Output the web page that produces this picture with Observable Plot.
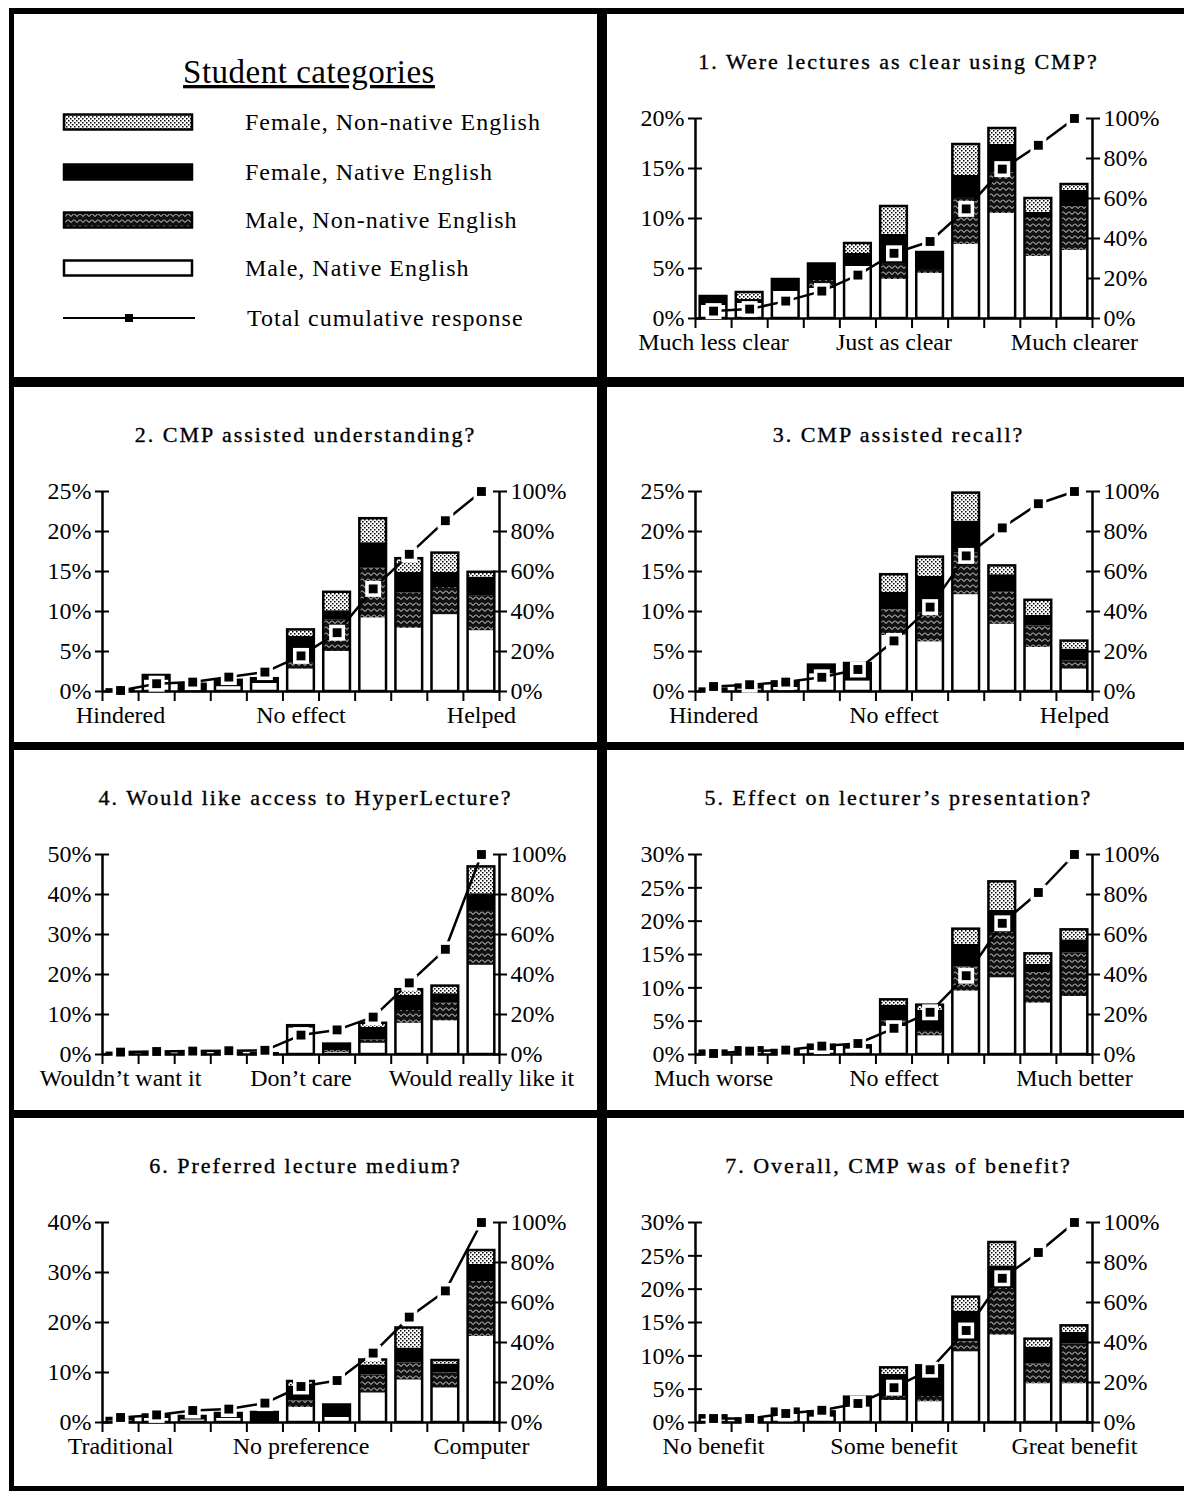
<!DOCTYPE html>
<html><head><meta charset="utf-8">
<script src="https://cdn.jsdelivr.net/npm/d3@7"></script>
<script src="https://cdn.jsdelivr.net/npm/@observablehq/plot@0.6"></script>
<style>
html,body{margin:0;padding:0;background:#fff;}
body{width:1184px;height:1491px;overflow:hidden;position:relative;font-family:"Liberation Serif",serif;color:#000;}
#frame{position:absolute;left:9px;top:8px;width:1200px;height:1483px;background:#000;}
.panel{position:absolute;background:#fff;overflow:hidden;}
.title{position:absolute;left:0;right:0;top:35px;text-align:center;font-size:22px;letter-spacing:2px;line-height:26px;white-space:nowrap;-webkit-text-stroke:0.35px #000;}
.panel svg.chart{position:absolute;left:0;top:70px;}
.panel svg.chart text{-webkit-text-stroke:0.25px #000;}
</style></head><body>
<svg width="0" height="0" style="position:absolute">
<defs>
<pattern id="pFNN" width="4" height="4" patternUnits="userSpaceOnUse">
<rect width="4" height="4" fill="#fff"/>
<rect x="0" y="0" width="1.5" height="1.5" fill="#000"/>
<rect x="2" y="2" width="1.5" height="1.5" fill="#000"/>
</pattern>
<pattern id="pMNN" width="6" height="6" patternUnits="userSpaceOnUse">
<rect width="6" height="6" fill="#111"/>
<path d="M0,1.5 L3,4.5 L6,1.5" stroke="#fff" stroke-width="0.9" fill="none"/>
</pattern>
</defs>
</svg>
<div id="frame"></div>
<script>
// ---------- data ----------
const categories = ["Male, Native English", "Male, Non-native English", "Female, Native English", "Female, Non-native English"];

const questions = [
  "1. Were lectures as clear using CMP?",
  "2. CMP assisted understanding?",
  "3. CMP assisted recall?",
  "4. Would like access to HyperLecture?",
  "5. Effect on lecturer\u2019s presentation?",
  "6. Preferred lecture medium?",
  "7.  Overall, CMP was of benefit?"
];

const scaleLabels = [
  ["Much less clear", "Just as clear", "Much clearer"],
  ["Hindered", "No effect", "Helped"],
  ["Hindered", "No effect", "Helped"],
  ["Wouldn\u2019t want it", "Don\u2019t care", "Would really like it"],
  ["Much worse", "No effect", "Much better"],
  ["Traditional", "No preference", "Computer"],
  ["No benefit", "Some benefit", "Great benefit"]
];

const axisMax = [20, 25, 25, 50, 30, 40, 30];
const axisStep = [5, 5, 5, 10, 5, 10, 5];
const cumulativeTicks = [0, 20, 40, 60, 80, 100];

const maleNative = [
  [1.3, 1.5, 2.7, 3.0, 5.2, 3.9, 4.5, 7.4, 10.5, 6.2, 6.8],
  [0, 1.4, 0, 0.6, 1.0, 2.8, 5.0, 9.2, 7.9, 9.6, 7.6],
  [0, 0.3, 0.5, 2.2, 1.3, 7.0, 6.2, 12.1, 8.4, 5.5, 2.8],
  [0, 0, 0, 0, 0, 6.6, 0.5, 2.8, 7.8, 8.4, 22.3],
  [0, 0.3, 0, 0.6, 0.8, 4.2, 2.8, 9.5, 11.5, 7.7, 8.7],
  [0.3, 0.8, 0.5, 0.8, 0, 3.0, 1.0, 5.9, 8.5, 6.9, 17.2],
  [0.5, 0, 1.2, 0.8, 2.3, 3.3, 3.1, 10.6, 13.1, 5.8, 5.8]
];
const maleNonNative = [
  [0, 0, 0, 0.8, 0, 1.6, 0.4, 4.7, 4.1, 3.9, 4.4],
  [0, 0, 0, 0, 0, 0.8, 3.9, 6.2, 4.4, 3.4, 4.3],
  [0, 0, 0, 0, 0, 3.2, 3.6, 5.2, 4.0, 2.7, 1.0],
  [0, 0, 0, 0, 0, 0, 0.5, 0.8, 3.2, 4.4, 13.7],
  [0, 0, 0, 0, 0, 0.8, 0.8, 3.6, 6.8, 4.6, 6.5],
  [0, 0, 0, 0, 0, 1.3, 0, 3.6, 3.4, 3.0, 11.0],
  [0, 0, 0, 0, 0, 0.6, 0.8, 1.5, 7.0, 3.0, 6.0]
];
const femaleNative = [
  [0.9, 0.4, 1.2, 1.65, 1.3, 2.9, 1.7, 2.2, 2.8, 0.5, 1.6],
  [0.2, 0.6, 0.9, 0.8, 0.6, 3.3, 1.2, 3.2, 2.6, 1.9, 2.4],
  [0.3, 0.5, 0.7, 1.1, 2.2, 2.2, 4.6, 4.0, 2.2, 1.3, 1.5],
  [0.3, 0.2, 0.2, 0.2, 0.2, 0.6, 1.6, 3.2, 3.8, 2.4, 4.2],
  [0.5, 0.7, 0.6, 0.8, 0.5, 2.4, 3.0, 3.4, 3.3, 1.2, 2.0],
  [0.5, 0.7, 0.7, 1.0, 2.0, 3.0, 2.5, 2.0, 3.0, 1.8, 3.4],
  [0.5, 0.5, 0.8, 0.8, 1.5, 3.3, 4.6, 4.6, 3.4, 2.5, 1.7]
];
const femaleNonNative = [
  [0, 0.7, 0, 0, 1.0, 2.8, 0, 3.1, 1.6, 1.4, 0.6],
  [0, 0, 0, 0, 0, 0.8, 2.3, 3.0, 1.7, 2.4, 0.6],
  [0, 0, 0, 0, 0, 2.2, 2.4, 3.5, 1.1, 1.9, 1.0],
  [0, 0, 0, 0, 0, 0, 0, 1.0, 1.4, 1.9, 6.7],
  [0, 0, 0, 0, 0, 0.8, 0.8, 2.3, 4.3, 1.6, 1.5],
  [0, 0, 0, 0, 0, 0.9, 0, 1.0, 4.0, 0.7, 2.8],
  [0, 0, 0, 0, 0, 1.0, 0, 2.1, 3.5, 1.2, 1.0]
];
const cumulative = [
  [3.7, 4.7, 8.7, 13.7, 21.7, 32.6, 38.5, 54.8, 74.7, 86.6, 100],
  [0.5, 3.9, 4.7, 7.2, 9.7, 17.8, 29.4, 51.3, 68.6, 85.4, 100],
  [2.5, 3.4, 4.7, 7.1, 11.0, 25.3, 42.2, 67.8, 81.8, 93.9, 100],
  [1.2, 1.5, 1.7, 1.9, 2.1, 9.7, 12.3, 18.7, 35.8, 52.6, 100],
  [0.5, 1.7, 2.2, 4.2, 5.5, 13.1, 21.1, 39.4, 65.6, 81.0, 100],
  [2.5, 3.8, 6.0, 6.7, 9.7, 18.0, 21.0, 34.7, 52.7, 65.8, 100],
  [2.0, 2.0, 4.5, 6.1, 9.5, 17.4, 26.4, 46.0, 72.1, 85.0, 100]
];

// ---------- styles / layout ----------
const catFill = ["#fff", "url(#pMNN)", "#000", "url(#pFNN)"];
const colX = [14, 607];
const rowY = [14, 387, 750, 1118];
const rowH = [363, 355, 360, 368];
const panelW = 583;
const slots = [[1,0],[0,1],[1,1],[0,2],[1,2],[0,3],[1,3]];

function makePanel(c, r) {
  const d = document.createElement("div");
  d.className = "panel";
  d.style.left = colX[c] + "px";
  d.style.top = rowY[r] + "px";
  d.style.width = panelW + "px";
  d.style.height = rowH[r] + "px";
  document.body.appendChild(d);
  return d;
}

// ---------- legend ----------
{
  const p = makePanel(0, 0);
  const svg = d3.select(p).append("svg").attr("width", panelW).attr("height", rowH[0])
    .style("font-family", "'Liberation Serif', serif")
    .style("-webkit-text-stroke", "0.35px #000");
  svg.append("text").attr("x", 295).attr("y", 69).attr("text-anchor", "middle")
    .attr("font-size", 33).attr("letter-spacing", 0.5).attr("text-decoration", "underline")
    .text("Student categories");
  const order = [3, 2, 1, 0];
  const rowsY = [108, 158, 206, 254];
  order.forEach((ci, i) => {
    svg.append("rect").attr("x", 50).attr("y", rowsY[i] - 7.5).attr("width", 128).attr("height", 15)
      .attr("fill", catFill[ci]).attr("stroke", "#000").attr("stroke-width", 2.5);
    svg.append("text").attr("x", 231).attr("y", rowsY[i] + 8).attr("font-size", 24)
      .attr("letter-spacing", 1).text(categories[ci]);
  });
  svg.append("line").attr("x1", 49).attr("x2", 181).attr("y1", 304).attr("y2", 304)
    .attr("stroke", "#000").attr("stroke-width", 2);
  svg.append("rect").attr("x", 111).attr("y", 300).attr("width", 8).attr("height", 8).attr("fill", "#000");
  svg.append("text").attr("x", 233).attr("y", 312).attr("font-size", 24)
    .attr("letter-spacing", 1).text("Total cumulative response");
}

// ---------- charts ----------
questions.forEach((title, q) => {
  const [c, r] = slots[q];
  const p = makePanel(c, r);
  const t = document.createElement("div");
  t.className = "title";
  t.textContent = title;
  p.appendChild(t);

  const series = [maleNative[q], maleNonNative[q], femaleNative[q], femaleNonNative[q]];
  const long = [];
  for (let k = 0; k < 11; k++)
    for (let s = 0; s < 4; s++)
      long.push({level: k + 1, cat: categories[s], value: series[s][k]});
  const totals = d3.range(11).map(k => ({level: k + 1, total: d3.sum(series, s => s[k])}));
  const ymax = axisMax[q];
  const toLeft = v => v * ymax / 100;
  const cum = cumulative[q].map((v, k) => ({level: k + 1, pct: v}));
  const hw = 0.37;
  const labelTicks = [1, 6, 11];

  const chart = Plot.plot({
    width: panelW, height: 289,
    marginLeft: 88, marginRight: 98, marginTop: 34, marginBottom: 55,
    x: {domain: [0.5, 11.5], axis: null, label: null},
    y: {domain: [0, ymax], axis: null, label: null},
    color: {domain: categories, range: catFill},
    style: {fontFamily: "'Liberation Serif', serif", fontSize: "24px", color: "#000", background: "transparent", overflow: "visible"},
    marks: [
      Plot.rectY(long, Plot.stackY({x1: d => d.level - hw, x2: d => d.level + hw, y: "value", fill: "cat"})),
      Plot.rectY(totals, {x1: d => d.level - hw, x2: d => d.level + hw, y1: 0, y2: "total", fill: "none", stroke: "#000", strokeWidth: 2.5}),
      Plot.ruleX([0.5, 11.5], {stroke: "#000", strokeWidth: 2.5}),
      Plot.ruleY([0], {stroke: "#000", strokeWidth: 2.5}),
      Plot.axisY({anchor: "left", label: null, ticks: d3.range(0, ymax + 1e-9, axisStep[q]), tickFormat: d => d + "%", tickSize: 14, dx: 7, tickPadding: 4, strokeWidth: 2}),
      Plot.axisY({anchor: "right", label: null, ticks: cumulativeTicks.map(toLeft), tickFormat: d => Math.round(d * 100 / ymax) + "%", tickSize: 14, dx: -7, tickPadding: 4, strokeWidth: 2}),
      Plot.axisX({label: null, ticks: d3.range(0.5, 11.6, 1), tickSize: 10, tickFormat: () => "", strokeWidth: 2}),
      Plot.axisX({label: null, ticks: labelTicks, tickSize: 0, tickPadding: 14, tickFormat: d => scaleLabels[q][labelTicks.indexOf(d)]}),
      Plot.line(cum, {x: "level", y: d => toLeft(d.pct), stroke: "#000", strokeWidth: 2.5}),
      Plot.dot(cum, {x: "level", y: d => toLeft(d.pct), symbol: "square", r: 9, fill: "#fff", stroke: "none"}),
      Plot.dot(cum, {x: "level", y: d => toLeft(d.pct), symbol: "square", r: 5, fill: "#000", stroke: "none"})
    ]
  });
  chart.classList.add("chart");
  p.appendChild(chart);
});
</script>
</body></html>
